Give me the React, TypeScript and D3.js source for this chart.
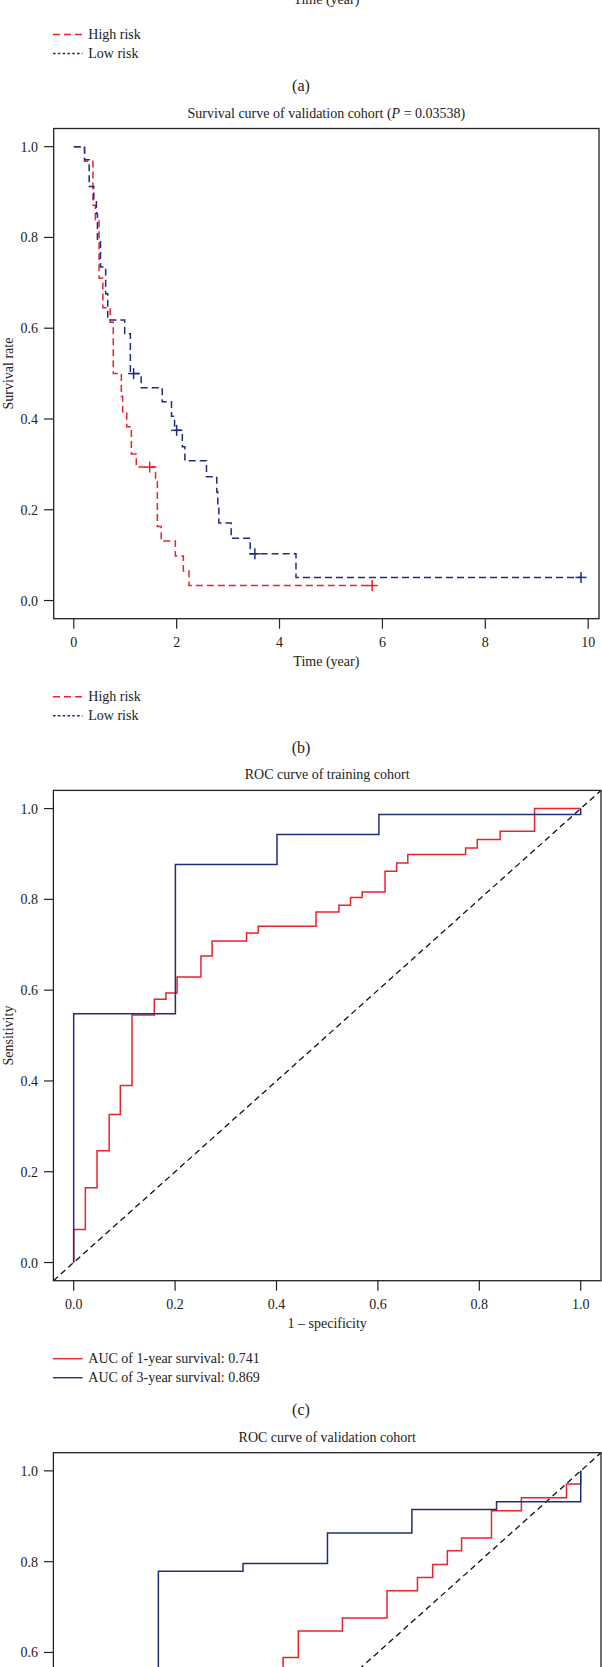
import React from 'react';
import * as d3 from 'd3';

// ---------- Panel (b): Kaplan–Meier, validation cohort ----------
const highRiskTimes = [0, 0.21, 0.373, 0.42, 0.492, 0.566, 0.708, 0.768, 0.925, 0.95, 1.03, 1.12, 1.215, 1.59, 1.625, 1.70, 1.975, 2.13, 2.24, 5.80];
const highRiskSurv = [1.0, 0.968, 0.871, 0.839, 0.71, 0.645, 0.613, 0.5, 0.45, 0.413, 0.383, 0.323, 0.294, 0.262, 0.163, 0.131, 0.098, 0.065, 0.033, 0.033];
const highRiskCensor = [1.476, 5.80];

const lowRiskTimes = [0, 0.21, 0.30, 0.39, 0.44, 0.46, 0.52, 0.62, 0.66, 0.99, 1.10, 1.31, 1.72, 1.90, 1.96, 2.11, 2.16, 2.58, 2.78, 2.80, 2.82, 3.06, 3.43, 4.32, 9.86];
const lowRiskSurv = [1.0, 0.971, 0.912, 0.882, 0.853, 0.794, 0.735, 0.676, 0.618, 0.588, 0.5, 0.469, 0.438, 0.406, 0.375, 0.339, 0.308, 0.273, 0.239, 0.205, 0.171, 0.137, 0.103, 0.051, 0.051];
const lowRiskCensor = [1.163, 2.0, 3.52, 9.86];

const kmXTicks = [0, 2, 4, 6, 8, 10];
const probTicks = [0, 0.2, 0.4, 0.6, 0.8, 1.0];

// ---------- Panel (c): ROC, training cohort ----------
const trainFpr1y = [0, 0, 0.023, 0.046, 0.070, 0.092, 0.115, 0.159, 0.182, 0.204, 0.251, 0.273, 0.341, 0.364, 0.478, 0.523, 0.546, 0.569, 0.614, 0.637, 0.659, 0.773, 0.796, 0.841, 0.909, 1.0];
const trainTpr1y = [0, 0.073, 0.165, 0.246, 0.326, 0.390, 0.545, 0.580, 0.594, 0.629, 0.675, 0.708, 0.726, 0.741, 0.772, 0.787, 0.804, 0.816, 0.862, 0.880, 0.899, 0.913, 0.932, 0.950, 1.0, 1.0];
const trainFpr3y = [0, 0, 0.2006, 0.401, 0.602, 1.0];
const trainTpr3y = [0, 0.548, 0.877, 0.943, 0.987, 1.0];

// ---------- Panel (d): ROC, validation cohort (lower part is off the page) ----------
const validFpr1y = [0, 0.12, 0.25, 0.38, 0.413, 0.443, 0.530, 0.618, 0.678, 0.708, 0.737, 0.765, 0.824, 0.883, 0.972, 1.0];
const validTpr1y = [0, 0.15, 0.30, 0.45, 0.589, 0.647, 0.676, 0.736, 0.765, 0.794, 0.824, 0.852, 0.912, 0.941, 0.971, 1.0];
const validFpr3y = [0, 0, 0.083, 0.167, 0.334, 0.5005, 0.667, 0.834, 1.0];
const validTpr3y = [0, 0.30, 0.45, 0.779, 0.796, 0.863, 0.915, 0.932, 1.0];

const rocTicks = [0, 0.2, 0.4, 0.6, 0.8, 1.0];

const FONT = '"Liberation Serif", "Times New Roman", Times, serif';
const RED = '#E8232B';
const BLUE = '#1F2C80';
const INK = '#222';
const PAGE_H = 1667;

type Box = { left: number; right: number; top: number; bottom: number };

function zip(xs: number[], ys: number[]): [number, number][] {
  return xs.map((x, i) => [x, ys[i]]);
}

function stepValue(ts: number[], ss: number[], t: number) {
  let v = ss[0];
  for (let i = 0; i < ts.length; i++) if (ts[i] <= t) v = ss[i];
  return v;
}

function Frame({ box, x, y, xTicks, yTicks, fmtX, fmtY, title, xLabel, yLabel }: any) {
  const cy = (box.top + box.bottom) / 2;
  const visY = yTicks.filter((t: number) => y(t) + 6 < PAGE_H);
  const showBottom = box.bottom + 10 < PAGE_H;
  return (
    <g>
      <rect x={box.left} y={box.top} width={box.right - box.left} height={box.bottom - box.top} fill="none" stroke={INK} strokeWidth={1.3} />
      {visY.map((t: number) => (
        <g key={'y' + t}>
          <line x1={44} x2={box.left} y1={y(t)} y2={y(t)} stroke={INK} strokeWidth={1.2} />
          <text x={38} y={y(t) + 5} textAnchor="end" fontSize={14} fill={INK}>{fmtY(t)}</text>
        </g>
      ))}
      {showBottom && xTicks.map((t: number) => (
        <g key={'x' + t}>
          <line x1={x(t)} x2={x(t)} y1={box.bottom} y2={box.bottom + 10} stroke={INK} strokeWidth={1.2} />
          <text x={x(t)} y={box.bottom + 28.5} textAnchor="middle" fontSize={14} fill={INK}>{fmtX(t)}</text>
        </g>
      ))}
      <text x={(box.left + box.right) / 2} y={box.top - 11} textAnchor="middle" fontSize={14} fill={INK}>{title}</text>
      {showBottom && <text x={(box.left + box.right) / 2} y={box.bottom + 47.5} textAnchor="middle" fontSize={14} fill={INK}>{xLabel}</text>}
      {cy - 30 < PAGE_H && <text transform={`translate(12.5,${cy}) rotate(-90)`} textAnchor="middle" fontSize={14} fill={INK}>{yLabel}</text>}
    </g>
  );
}

function Legend({ bottom, items, letter }: any) {
  return (
    <g>
      {items.map((it: any, i: number) => {
        const yy = bottom + 78 + i * 19;
        return (
          <g key={i}>
            <line x1={53} x2={82.5} y1={yy} y2={yy} stroke={it.color} strokeWidth={1.4} strokeDasharray={it.dash} />
            <text x={88.3} y={yy + 4.7} fontSize={14} fill={INK}>{it.label}</text>
          </g>
        );
      })}
      <text x={301} y={bottom + 134} textAnchor="middle" fontSize={16} fill={INK}>{letter}</text>
    </g>
  );
}

const kmLegend = [
  { label: 'High risk', color: RED, dash: '7,4' },
  { label: 'Low risk', color: BLUE, dash: '2.6,2.2' },
];

function KMPanel() {
  const box: Box = { left: 53.7, right: 599, top: 128.5, bottom: 618.7 };
  const x = d3.scaleLinear().domain([-0.39, 10.21]).range([box.left, box.right]);
  const y = d3.scaleLinear().domain([-0.04, 1.04]).range([box.bottom, box.top]);
  const line = d3.line<[number, number]>().x(d => x(d[0])).y(d => y(d[1])).curve(d3.curveStepAfter);
  const series = [
    { ts: highRiskTimes, ss: highRiskSurv, cs: highRiskCensor, color: RED },
    { ts: lowRiskTimes, ss: lowRiskSurv, cs: lowRiskCensor, color: BLUE },
  ];
  return (
    <g>
      <Frame box={box} x={x} y={y} xTicks={kmXTicks} yTicks={probTicks}
        fmtX={(t: number) => String(t)} fmtY={(t: number) => t.toFixed(1)}
        title={<><tspan>Survival curve of validation cohort (</tspan><tspan fontStyle="italic">P</tspan><tspan> = 0.03538)</tspan></>}
        xLabel="Time (year)" yLabel="Survival rate" />
      {series.map((s, i) => (
        <g key={i}>
          <path d={line(zip(s.ts, s.ss)) || ''} fill="none" stroke={s.color} strokeWidth={1.5} strokeDasharray="7,4" />
          {s.cs.map((c, j) => {
            const cx = x(c), cyv = y(stepValue(s.ts, s.ss, c));
            return (
              <g key={j} stroke={s.color} strokeWidth={1.5}>
                <line x1={cx - 5.5} x2={cx + 5.5} y1={cyv} y2={cyv} />
                <line x1={cx} x2={cx} y1={cyv - 5.5} y2={cyv + 5.5} />
              </g>
            );
          })}
        </g>
      ))}
      <Legend bottom={box.bottom} items={kmLegend} letter="(b)" />
    </g>
  );
}

function ROCPanel({ box, title, f1, t1, f3, t3, legend, letter }: any) {
  const x = d3.scaleLinear().domain([-0.04, 1.04]).range([box.left, box.right]);
  const y = d3.scaleLinear().domain([-0.04, 1.04]).range([box.bottom, box.top]);
  const line = d3.line<[number, number]>().x(d => x(d[0])).y(d => y(d[1])).curve(d3.curveStepAfter);
  return (
    <g>
      <line x1={x(-0.04)} y1={y(-0.04)} x2={x(1.04)} y2={y(1.04)} stroke="#111" strokeWidth={1.3} strokeDasharray="6,4" />
      <Frame box={box} x={x} y={y} xTicks={rocTicks} yTicks={rocTicks}
        fmtX={(t: number) => t.toFixed(1)} fmtY={(t: number) => t.toFixed(1)}
        title={title} xLabel="1 – specificity" yLabel="Sensitivity" />
      <path d={line(zip(f1, t1)) || ''} fill="none" stroke={RED} strokeWidth={1.5} />
      <path d={line(zip(f3, t3)) || ''} fill="none" stroke={BLUE} strokeWidth={1.5} />
      {legend && <Legend bottom={box.bottom} items={legend} letter={letter} />}
    </g>
  );
}

const rocLegendTrain = [
  { label: 'AUC of 1-year survival: 0.741', color: RED, dash: null },
  { label: 'AUC of 3-year survival: 0.869', color: BLUE, dash: null },
];

export default function App() {
  return (
    <svg width={602} height={1667} style={{ position: 'absolute', left: 0, top: 0, background: '#fff' }} fontFamily={FONT}>
      <rect x={0} y={0} width={602} height={1667} fill="#fff" />
      {/* Remnant of panel (a) */}
      <text x={326.4} y={-43.5 + 47.5} textAnchor="middle" fontSize={14} fill={INK}>Time (year)</text>
      <Legend bottom={-43.5} items={kmLegend} letter="(a)" />
      <KMPanel />
      <ROCPanel box={{ left: 53.4, right: 601, top: 790.4, bottom: 1280.7 }} title="ROC curve of training cohort"
        f1={trainFpr1y} t1={trainTpr1y} f3={trainFpr3y} t3={trainTpr3y} legend={rocLegendTrain} letter="(c)" />
      <ROCPanel box={{ left: 53.4, right: 601, top: 1452.7, bottom: 1943 }} title="ROC curve of validation cohort"
        f1={validFpr1y} t1={validTpr1y} f3={validFpr3y} t3={validTpr3y} legend={null} letter="" />
    </svg>
  );
}
